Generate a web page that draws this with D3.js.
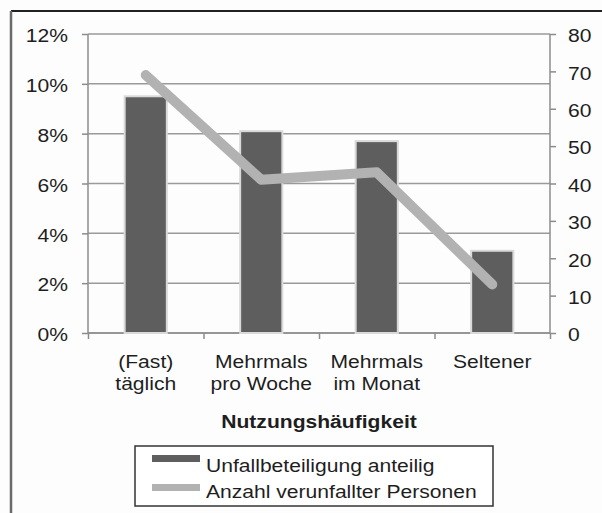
<!DOCTYPE html>
<meta charset="utf-8">
<script src="https://d3js.org/d3.v7.min.js"></script>
<style>
  body { margin: 0; background: #fff; }
  text { font-family: "Liberation Sans", Arial, sans-serif; fill: #1e1e1e; }
</style>
<div id="chart"></div>
<script>
// data
var categories = ["(Fast)\ntäglich", "Mehrmals\npro Woche", "Mehrmals\nim Monat", "Seltener"];
var shareValues = [0.095, 0.081, 0.077, 0.033];   // Unfallbeteiligung anteilig (left axis)
var personCounts = [69, 41, 43, 13];              // Anzahl verunfallter Personen (right axis)
var leftTicks = [0, 0.02, 0.04, 0.06, 0.08, 0.10, 0.12];
var rightTicks = [0, 10, 20, 30, 40, 50, 60, 70, 80];
var seriesNames = ["Unfallbeteiligung anteilig", "Anzahl verunfallter Personen"];
var axisTitle = "Nutzungshäufigkeit";

var W = 602, H = 513;
var margin = {top: 34, right: 52, bottom: 180, left: 88};
var fs = 18.5, sx = 1.14;   // text is a bit wider than tall in the source

var svg = d3.select("#chart").append("svg")
  .attr("width", W).attr("height", H);

svg.append("rect").attr("width", W).attr("height", H).attr("fill", "#fdfdfd");

// outer frame (top + left only)
svg.append("line").attr("x1", 11).attr("x2", W).attr("y1", 11).attr("y2", 11)
  .attr("stroke", "#222").attr("stroke-width", 2);
svg.append("line").attr("x1", 11).attr("x2", 11).attr("y1", 11).attr("y2", H)
  .attr("stroke", "#6a6a6a").attr("stroke-width", 2.5);

var x0 = margin.left, x1 = W - margin.right, y0 = H - margin.bottom, y1 = margin.top;

var x = d3.scaleBand().domain(categories).range([x0, x1]);
var xEdge = d3.scaleLinear().domain([0, categories.length]).range([x0, x1]);
var yL = d3.scaleLinear().domain([0, 0.12]).range([y0, y1]);
var yR = d3.scaleLinear().domain([0, 80]).range([y0, y1]);

// gridlines
svg.append("g").selectAll("line").data(leftTicks).enter().append("line")
  .attr("x1", x0).attr("x2", x1)
  .attr("y1", function(d) { return yL(d); }).attr("y2", function(d) { return yL(d); })
  .attr("stroke", "#9a9a9a").attr("stroke-width", 1.5);

// left axis
var gL = svg.append("g").attr("transform", "translate(" + x0 + ",0)")
  .call(d3.axisLeft(yL).tickValues(leftTicks).tickFormat(d3.format(".0%")).tickSize(6).tickPadding(0));
gL.selectAll("text").attr("x", -20 / sx).attr("dy", "0.42em")
  .attr("transform", "scale(" + sx + ",1)").style("font-size", fs + "px");

// right axis
var gR = svg.append("g").attr("transform", "translate(" + x1 + ",0)")
  .call(d3.axisRight(yR).tickValues(rightTicks).tickSize(6).tickPadding(0));
gR.selectAll("text").attr("x", 18 / sx).attr("dy", "0.42em")
  .attr("transform", "scale(" + sx + ",1)").style("font-size", fs + "px");

// bottom axis: ticks at band edges
var gB = svg.append("g").attr("transform", "translate(0," + y0 + ")")
  .call(d3.axisBottom(xEdge).ticks(categories.length).tickSize(6).tickFormat(""));

[gL, gR, gB].forEach(function(g) {
  g.selectAll(".domain").attr("stroke", "#8c8c8c").attr("stroke-width", 1.5);
  g.selectAll(".tick line").attr("stroke", "#8c8c8c").attr("stroke-width", 1.5);
});
gL.select(".domain").attr("d", "M0," + y1 + "V" + y0);
gR.select(".domain").attr("d", "M0," + y1 + "V" + y0);
gB.select(".domain").attr("d", "M" + x0 + ",0H" + x1);

// category labels
var labels = svg.append("g").selectAll("text").data(categories).enter().append("text")
  .attr("transform", function(d) { return "translate(" + (x(d) + x.bandwidth() / 2) + "," + (y0 + 34.5) + ") scale(" + sx + ",1)"; })
  .attr("text-anchor", "middle").style("font-size", fs + "px");
labels.each(function(d) {
  var t = d3.select(this);
  d.split("\n").forEach(function(line, i) {
    t.append("tspan").attr("x", 0).attr("y", i * 22.5).text(line);
  });
});

// bars
var barW = x.bandwidth() * 0.365;
svg.append("g").selectAll("rect").data(shareValues).enter().append("rect")
  .attr("x", function(d, i) { return x(categories[i]) + x.bandwidth() / 2 - barW / 2; })
  .attr("y", function(d) { return yL(d); })
  .attr("width", barW)
  .attr("height", function(d) { return y0 - yL(d); })
  .attr("fill", "#5e5e5e")
  .attr("stroke", "#d9d9d9").attr("stroke-width", 2);

// line
var line = d3.line()
  .x(function(d, i) { return x(categories[i]) + x.bandwidth() / 2; })
  .y(function(d) { return yR(d); });
svg.append("path").datum(personCounts)
  .attr("d", line)
  .attr("fill", "none").attr("stroke", "#b2b2b2").attr("stroke-width", 10)
  .attr("stroke-linecap", "round").attr("stroke-linejoin", "round");

// axis title
svg.append("text")
  .attr("transform", "translate(" + ((x0 + x1) / 2) + ",428) scale(" + sx + ",1)")
  .attr("text-anchor", "middle").style("font-size", fs + "px").style("font-weight", "bold")
  .text(axisTitle);

// legend
var lg = svg.append("g");
lg.append("rect").attr("x", 135).attr("y", 446).attr("width", 358).attr("height", 60)
  .attr("fill", "#fff").attr("stroke", "#333").attr("stroke-width", 1.5);
var swatch = ["#5e5e5e", "#b2b2b2"];
seriesNames.forEach(function(name, i) {
  var cy = 458.5 + i * 29;
  lg.append("line").attr("x1", 152).attr("x2", 200).attr("y1", cy).attr("y2", cy)
    .attr("stroke", swatch[i]).attr("stroke-width", 7);
  lg.append("text")
    .attr("transform", "translate(206," + (472 + i * 25.5) + ") scale(" + sx + ",1)")
    .style("font-size", fs + "px").text(name);
});
</script>
